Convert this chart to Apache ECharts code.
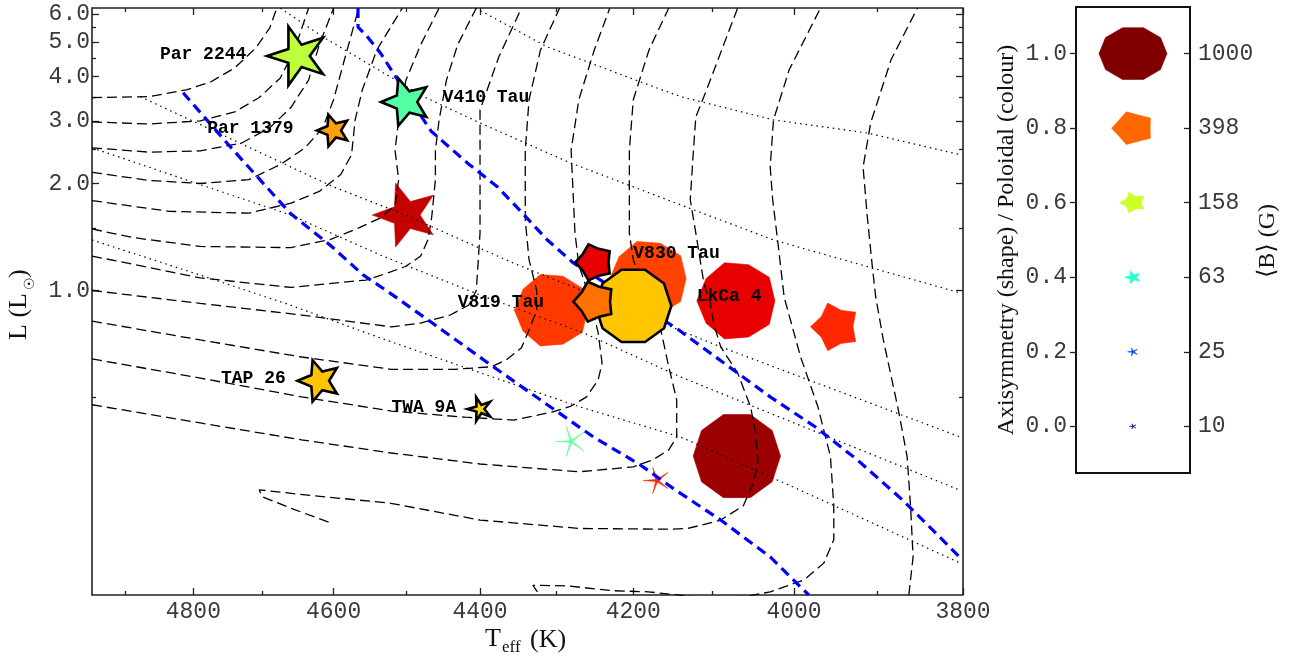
<!DOCTYPE html>
<html><head><meta charset="utf-8">
<script src="https://cdn.jsdelivr.net/npm/echarts@6/dist/echarts.min.js"></script>
<style>html,body{margin:0;padding:0;background:#fff}#c{width:1295px;height:657px}</style>
</head><body><div id="c"></div>
<script>
// ---------------- data ----------------
const teffRange = [3800, 4950];
const lumRange = [0.1391, 6.233];
const xTickValues = [4800, 4600, 4400, 4200, 4000, 3800];
const xMinorTickValues = [4900, 4700, 4500, 4300, 4100, 3900];
const yTickValues = [1, 2, 3, 4, 5, 6];
const yMinorTickValues = [0.5, 1.5, 2.5, 3.5, 4.5, 5.5];

// stars: Teff (K), L (Lsun), <B> (G), poloidal fraction (colour), axisymmetry (shape)
const starTeff     = [4650, 4600, 4500, 4500, 4250, 4180, 4200, 4250, 4305, 4070, 3950, 4070, 4280, 4170, 4620, 4400];
const starLum      = [4.57, 2.82, 3.39, 1.63, 1.20, 1.08, 0.905, 0.93, 0.88, 0.935, 0.79, 0.342, 0.376, 0.292, 0.557, 0.464];
const starField    = [830, 240, 540, 980, 310, 1320, 1250, 380, 1220, 1385, 540, 1650, 220, 160, 410, 135];
const starPoloidal = [0.58, 0.74, 0.45, 0.94, 0.91, 0.84, 0.70, 0.79, 0.85, 0.91, 0.87, 0.975, 0.47, 0.87, 0.70, 0.68];
const starAxisym   = [0.38, 0.45, 0.45, 0.42, 0.75, 0.95, 1.0, 0.75, 0.95, 0.95, 0.70, 1.0, 0.08, 0.12, 0.45, 0.35];
const starOutlined = [1, 1, 1, 0, 1, 0, 1, 1, 0, 0, 0, 0, 0, 0, 1, 1];
const outlinedOrder = [0, 1, 2, 14, 15, 6, 7, 4];

const labelText = ['Par 2244', 'Par 1379', 'V410 Tau', 'V830 Tau', 'V819 Tau', 'LkCa 4', 'TAP 26', 'TWA 9A'];
const labelTeff = [4849, 4780, 4450, 4200, 4430, 4120, 4760, 4520];
const labelLum  = [4.60, 2.85, 3.50, 1.275, 0.928, 0.959, 0.567, 0.470];

// evolutionary tracks [Teff, L]
const trackA = [[4950,3.49],[4865,3.51],[4810,3.67],[4775,3.86],[4740,4.23],[4710,4.81],[4690,5.48],[4680,6.23]];
const trackB = [[4950,2.98],[4865,2.94],[4790,3.00],[4740,3.18],[4705,3.49],[4675,3.96],[4655,4.75],[4635,6.23]];
const trackC = [[4950,2.52],[4865,2.45],[4790,2.47],[4730,2.60],[4690,2.87],[4660,3.27],[4635,3.91],[4620,4.91],[4600,6.23]];
const trackD = [[4950,2.15],[4865,2.04],[4790,2.00],[4720,2.05],[4675,2.26],[4640,2.52],[4615,2.87],[4600,3.44],[4585,4.45],[4565,6.23]];
const trackE = [[4950,1.79],[4835,1.67],[4720,1.65],[4660,1.76],[4620,1.90],[4590,2.12],[4575,2.41],[4570,3.02],[4560,3.67],[4540,4.75],[4505,6.23]];
const trackF = [[4950,1.49],[4890,1.41],[4790,1.33],[4660,1.32],[4605,1.39],[4565,1.50],[4535,1.60],[4515,1.74],[4510,2.05],[4515,2.48],[4510,3.02],[4500,3.91],[4480,4.91],[4455,6.23]];
const trackG = [[4950,1.25],[4790,1.085],[4660,1.02],[4555,1.07],[4525,1.12],[4500,1.17],[4480,1.25],[4470,1.39],[4465,1.61],[4460,2.05],[4460,2.48],[4455,3.02],[4445,3.91],[4430,4.91],[4405,6.23]];
const trackH = [[4950,1.00],[4790,0.92],[4645,0.853],[4520,0.79],[4480,0.81],[4440,0.853],[4415,0.91],[4405,1.00],[4400,1.45],[4400,2.48],[4400,3.22],[4375,4.54],[4345,6.23]];
const trackI = [[4950,0.82],[4790,0.726],[4645,0.65],[4520,0.60],[4435,0.60],[4385,0.61],[4365,0.638],[4345,0.69],[4335,0.774],[4325,0.88],[4325,1.00],[4335,1.22],[4340,1.58],[4340,2.48],[4335,3.44],[4320,4.75],[4295,6.23]];
const trackJ = [[4950,0.642],[4790,0.567],[4645,0.502],[4520,0.458],[4420,0.44],[4355,0.432],[4305,0.455],[4280,0.473],[4260,0.502],[4245,0.56],[4240,0.625],[4245,0.76],[4255,0.94],[4270,1.18],[4275,1.45],[4280,2.48],[4270,3.44],[4250,4.75],[4230,6.23]];
const trackK = [[4950,0.477],[4790,0.424],[4645,0.38],[4520,0.349],[4400,0.325],[4270,0.309],[4200,0.319],[4175,0.334],[4155,0.356],[4145,0.387],[4145,0.492],[4155,0.61],[4165,0.774],[4185,1.00],[4200,1.22],[4205,1.45],[4205,2.48],[4200,3.44],[4180,4.75],[4155,6.23]];
const trackL = [[4607,0.223],[4660,0.244],[4701,0.263],[4705,0.275],[4647,0.267],[4521,0.252],[4400,0.226],[4268,0.214],[4153,0.213],[4131,0.214],[4090,0.226],[4062,0.248],[4050,0.287],[4044,0.328],[4047,0.398],[4053,0.470],[4069,0.586],[4090,0.694],[4099,0.81],[4103,0.922],[4111,1.049],[4121,1.45],[4128,1.80],[4124,2.48],[4121,3.08],[4109,3.60],[4078,5.51],[4069,6.23]];
const trackM = [[4324,0.142],[4330,0.148],[4319,0.148],[4285,0.1475],[4225,0.143],[4181,0.142],[4115,0.137],[4057,0.138],[4029,0.142],[3988,0.1533],[3964,0.171],[3952,0.199],[3952,0.248],[3956,0.341],[3971,0.470],[3992,0.650],[4012,0.958],[4020,1.387],[4026,1.80],[4029,2.226],[4025,3.02],[4006,4.17],[3968,6.23]];
const trackN = [[3863,0.139],[3858,0.178],[3861,0.248],[3865,0.341],[3876,0.470],[3893,0.726],[3902,0.958],[3906,1.164],[3912,1.611],[3917,2.226],[3908,2.96],[3884,4.45],[3853,6.23]];
const tracks = [trackA, trackB, trackC, trackD, trackE, trackF, trackG, trackH, trackI, trackJ, trackK, trackL, trackM, trackN];

// isochrones [Teff, L]
const iso0 = [[4406,6.23],[4311,4.845],[4187,3.835],[4140,3.51],[4025,3.02],[3912,2.773],[3803,2.41]];
const iso1 = [[4675,6.23],[4615,5.17],[4476,3.51],[4400,2.96],[4281,2.285],[4124,1.687],[4025,1.387],[3803,0.984]];
const iso2 = [[4878,3.51],[4742,2.65],[4601,1.959],[4501,1.632],[4356,1.195],[4268,1.003],[4090,0.694],[3803,0.387]];
const iso3 = [[4950,2.52],[4790,1.985],[4661,1.632],[4535,1.258],[4400,0.971],[4264,0.76],[4140,0.571],[3803,0.274]];
const iso4 = [[4950,1.387],[4790,1.105],[4661,0.91],[4535,0.735],[4400,0.587],[4268,0.470],[4140,0.387],[3992,0.274],[3803,0.171]];
const isochrones = [iso0, iso1, iso2, iso3, iso4];

// blue boundaries [Teff, L]
const blueLine1 = [[4815,3.60],[4746,2.53],[4661,1.65],[4605,1.343],[4559,1.106],[4526,0.997],[4466,0.815],[4386,0.618],[4311,0.477],[4251,0.387],[4191,0.323],[4149,0.277],[4090,0.226],[4029,0.178],[3982,0.139]];
const blueLine2 = [[4566,6.23],[4566,5.51],[4553,5.17],[4535,4.657],[4501,3.62],[4466,2.81],[4417,2.285],[4377,1.959],[4346,1.67],[4311,1.387],[4277,1.195],[4242,1.07],[4191,0.91],[4144,0.779],[4086,0.625],[4029,0.502],[3974,0.413],[3924,0.334],[3870,0.257],[3803,0.177]];

// legend panel
const legendLevels = [0.0, 0.2, 0.4, 0.6, 0.8, 1.0];
const legendFieldG = [10, 25, 63, 158, 398, 1000];
const legendRange = [-0.125, 1.125];

// ---------------- helpers ----------------
const LOG = Math.log10;
const toLog = arr => arr.map(p => [LOG(p[0]), LOG(p[1])]);
const MONO = "'Liberation Mono','Courier New',monospace";
const SERIF = "'Liberation Serif','DejaVu Serif',serif";
const K_SIZE = 1.075;

function jet(v) {
  const segs = {
    r: [[0,0],[0.35,0],[0.66,1],[0.89,1],[1,0.5]],
    g: [[0,0],[0.125,0],[0.375,1],[0.64,1],[0.91,0],[1,0]],
    b: [[0,0.5],[0.11,1],[0.34,1],[0.65,0],[1,0]]
  };
  const f = s => {
    for (let i = 1; i < s.length; i++) {
      if (v <= s[i][0]) {
        const t = (v - s[i-1][0]) / (s[i][0] - s[i-1][0]);
        return s[i-1][1] + t * (s[i][1] - s[i-1][1]);
      }
    }
    return s[s.length-1][1];
  };
  const c = x => Math.round(Math.max(0, Math.min(1, x)) * 255);
  return 'rgb(' + c(f(segs.r)) + ',' + c(f(segs.g)) + ',' + c(f(segs.b)) + ')';
}

function starPoints(cx, cy, R, ratio, squish) {
  const pts = [];
  for (let k = 0; k < 10; k++) {
    const a = Math.PI + k * Math.PI / 5;
    const rad = (k % 2 === 0) ? R : R * ratio;
    pts.push([cx + rad * Math.cos(a), cy - rad * Math.sin(a) * squish]);
  }
  return pts;
}

function starRenderer(outlined, squish) {
  return function (params, api) {
    const p = api.coord([api.value(0), api.value(1)]);
    const R = K_SIZE * Math.sqrt(api.value(2));
    const col = jet(api.value(3));
    return {
      type: 'polygon',
      shape: { points: starPoints(p[0], p[1], R, api.value(4), squish) },
      style: { fill: col, stroke: outlined ? '#000' : col, lineWidth: outlined ? 2.6 : 0.6, lineJoin: 'miter' }
    };
  };
}

const outlinedData = outlinedOrder.map(i => [LOG(starTeff[i]), LOG(starLum[i]), starField[i], starPoloidal[i], starAxisym[i]]);
const plainData = [];
starTeff.forEach((t, i) => { if (!starOutlined[i]) plainData.push([LOG(t), LOG(starLum[i]), starField[i], starPoloidal[i], starAxisym[i]]); });

const xMin = LOG(teffRange[0]), xMax = LOG(teffRange[1]);
const yMin = LOG(lumRange[0]), yMax = LOG(lumRange[1]);

function xAx(pos, vals, len, withLabels) {
  return {
    type: 'value', gridIndex: 0, position: pos, min: xMin, max: xMax, inverse: true,
    axisLine: { show: false, onZero: false }, splitLine: { show: false },
    axisTick: { show: true, inside: true, length: len, customValues: vals.map(LOG), lineStyle: { color: '#222', width: 1.3 } },
    axisLabel: withLabels ? {
      show: true, customValues: vals.map(LOG), margin: 5,
      formatter: v => String(Math.round(Math.pow(10, v))),
      fontFamily: MONO, fontSize: 23, color: '#3a3a3a'
    } : { show: false }
  };
}
function yAx(pos, vals, len, withLabels) {
  return {
    type: 'value', gridIndex: 0, position: pos, min: yMin, max: yMax,
    axisLine: { show: false, onZero: false }, splitLine: { show: false },
    axisTick: { show: true, inside: true, length: len, customValues: vals.map(LOG), lineStyle: { color: '#222', width: 1.3 } },
    axisLabel: withLabels ? {
      show: true, customValues: vals.map(LOG), margin: 2,
      formatter: v => Math.pow(10, v).toFixed(1),
      fontFamily: MONO, fontSize: 23, color: '#3a3a3a'
    } : { show: false }
  };
}

const series = [];
// unoutlined markers (beneath the curves)
series.push({ type: 'custom', xAxisIndex: 0, yAxisIndex: 0, z: 1, silent: true, renderItem: starRenderer(false, 1), data: plainData });
tracks.forEach(t => series.push({ type: 'line', xAxisIndex: 0, yAxisIndex: 0, z: 2, silent: true, showSymbol: false, symbol: 'none',
  data: toLog(t), lineStyle: { color: '#000', width: 1.3, type: [10, 5] } }));
isochrones.forEach(t => series.push({ type: 'line', xAxisIndex: 0, yAxisIndex: 0, z: 2, silent: true, showSymbol: false, symbol: 'none',
  data: toLog(t), lineStyle: { color: '#000', width: 1.2, type: [1.5, 4] } }));
[blueLine1, blueLine2].forEach(t => series.push({ type: 'line', xAxisIndex: 0, yAxisIndex: 0, z: 2, silent: true, showSymbol: false, symbol: 'none',
  data: toLog(t), lineStyle: { color: '#0000ff', width: 3.2, type: [10, 6] } }));
// outlined markers (on top)
series.push({ type: 'custom', xAxisIndex: 0, yAxisIndex: 0, z: 3, silent: true, renderItem: starRenderer(true, 1), data: outlinedData });
// star names
series.push({ type: 'custom', xAxisIndex: 0, yAxisIndex: 0, z: 4, silent: true,
  data: labelText.map((s, i) => [LOG(labelTeff[i]), LOG(labelLum[i]), i]),
  renderItem: (params, api) => {
    const p = api.coord([api.value(0), api.value(1)]);
    return { type: 'text', x: p[0], y: p[1], style: { text: labelText[api.value(2)], font: 'bold 18px ' + MONO, fill: '#000', align: 'left', verticalAlign: 'middle', textAlign: 'left', textVerticalAlign: 'middle' } };
  } });
// legend panel markers
series.push({ type: 'custom', xAxisIndex: 4, yAxisIndex: 4, z: 3, silent: true, renderItem: starRenderer(false, 0.8),
  data: legendLevels.map((v, i) => [0.5, v, legendFieldG[i], v, v]) });

const txt = (text, x, y, font, align, extra) => Object.assign({ type: 'text', x: x, y: y,
  style: { text: text, font: font, fill: '#111', align: align, textAlign: align, verticalAlign: 'middle', textVerticalAlign: 'middle' } }, extra || {});

const option = {
  animation: false,
  backgroundColor: '#fff',
  grid: [
    { left: 92, top: 8, width: 871, height: 587, show: true, borderColor: '#222', borderWidth: 1.6, backgroundColor: 'transparent' },
    { left: 1076, top: 7, width: 114, height: 466, show: true, borderColor: '#111', borderWidth: 2, backgroundColor: 'transparent' }
  ],
  xAxis: [
    xAx('bottom', xTickValues, 7, true),
    xAx('bottom', xMinorTickValues, 4, false),
    xAx('top', xTickValues, 7, false),
    xAx('top', xMinorTickValues, 4, false),
    { type: 'value', gridIndex: 1, min: 0, max: 1, show: false, axisLine: { onZero: false } }
  ],
  yAxis: [
    yAx('left', yTickValues, 7, true),
    yAx('left', yMinorTickValues, 4, false),
    yAx('right', yTickValues, 7, false),
    yAx('right', yMinorTickValues, 4, false),
    { type: 'value', gridIndex: 1, position: 'left', min: legendRange[0], max: legendRange[1],
      axisLine: { show: false, onZero: false }, splitLine: { show: false },
      axisTick: { show: true, inside: false, length: 6, customValues: legendLevels, lineStyle: { color: '#222', width: 1.3 } },
      axisLabel: { show: true, customValues: legendLevels, margin: 9, formatter: v => v.toFixed(1), fontFamily: MONO, fontSize: 23, color: '#3a3a3a' } },
    { type: 'value', gridIndex: 1, position: 'right', min: legendRange[0], max: legendRange[1],
      axisLine: { show: false, onZero: false }, splitLine: { show: false },
      axisTick: { show: true, inside: true, length: 6, customValues: legendLevels, lineStyle: { color: '#222', width: 1.3 } },
      axisLabel: { show: true, customValues: legendLevels, margin: 8,
        formatter: v => String(legendFieldG[legendLevels.findIndex(l => Math.abs(l - v) < 1e-6)]),
        fontFamily: MONO, fontSize: 23, color: '#3a3a3a' } }
  ],
  series: series,
  graphic: [
    txt('T', 485, 639, '26px ' + SERIF, 'left'),
    txt('eff', 502, 648, '17px ' + SERIF, 'left'),
    txt('(K)', 530, 640, '26px ' + SERIF, 'left'),
    { type: 'group', x: 19, y: 303, rotation: Math.PI / 2, children: [
      txt('L (L', -37, 0, '26px ' + SERIF, 'left'),
      txt('\u2609', 13, 11, '14px ' + SERIF, 'left'),
      txt(')', 25, 0, '26px ' + SERIF, 'left')
    ] },
    { type: 'group', x: 1007, y: 240, rotation: Math.PI / 2, children: [
      txt('Axisymmetry (shape) / Poloidal (colour)', 0, 0, '24px ' + SERIF, 'center')
    ] },
    { type: 'group', x: 1268, y: 241, rotation: Math.PI / 2, children: [
      txt('\u27E8B\u27E9 (G)', 0, 0, '24px ' + SERIF, 'center')
    ] }
  ]
};

const chart = echarts.init(document.getElementById('c'), null, { renderer: 'canvas' });
chart.setOption(option);
</script>
</body></html>
